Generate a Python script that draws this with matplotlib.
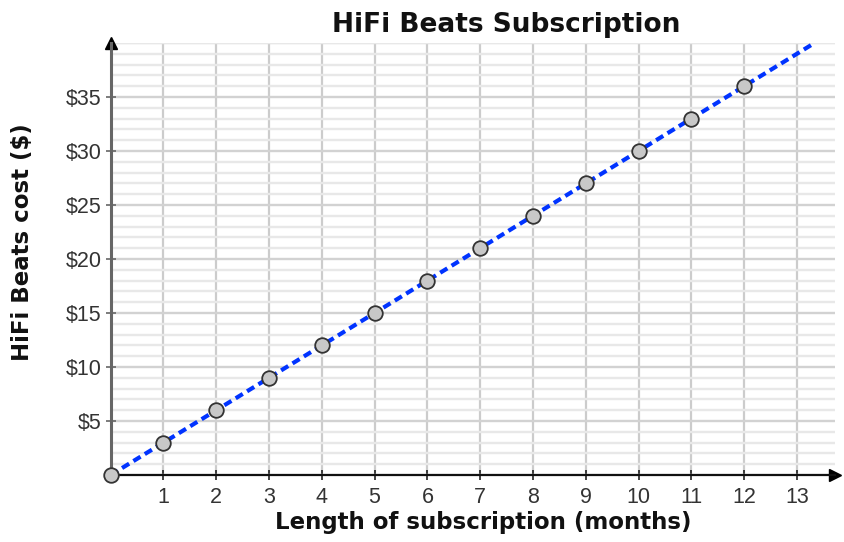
import numpy as np
import matplotlib.pyplot as plt
from matplotlib.ticker import MultipleLocator, FuncFormatter

# data
months = [0, 1, 2, 3, 4, 5, 6, 7, 8, 9, 10, 11, 12]
cost = [0, 3, 6, 9, 12, 15, 18, 21, 24, 27, 30, 33, 36]
x_ticks = [1, 2, 3, 4, 5, 6, 7, 8, 9, 10, 11, 12, 13]
y_ticks = [5, 10, 15, 20, 25, 30, 35]
x_max = 13.72
y_max = 40

# trend line: cost per month from the data
rate = np.polyfit(months, cost, 1)[0]
line_x = [0, y_max / rate]
line_y = [0, y_max]

fig = plt.figure(figsize=(8.45, 5.42), dpi=100)
ax = fig.add_axes([0.131, 0.1236, 0.857, 0.797])

ax.set_xlim(0, x_max)
ax.set_ylim(0, y_max)

# grid
ax.yaxis.set_minor_locator(MultipleLocator(1))
ax.grid(which='minor', axis='y', color='#e8e8e8', linewidth=1.7, zorder=0)
ax.grid(which='major', axis='y', color='#d2d2d2', linewidth=1.7, zorder=0)
ax.set_xticks(x_ticks)
ax.grid(which='major', axis='x', color='#cccccc', linewidth=1.6, zorder=0)
ax.set_yticks(y_ticks)
ax.tick_params(which='minor', length=0)
ax.axhline(y_max, color='#e8e8e8', linewidth=1.7, zorder=0)

ax.yaxis.set_major_formatter(FuncFormatter(lambda v, p: '$%d' % v))
ax.tick_params(axis='both', which='major', direction='inout', length=7,
               width=1.2, labelsize=15.5, colors='#222222', labelcolor='#333333')
ax.tick_params(axis='x', pad=5)
ax.tick_params(axis='y', colors='#666666', labelcolor='#333333', pad=3)
for lab in ax.get_xticklabels() + ax.get_yticklabels():
    lab.set_family('Liberation Sans')

for s in ['top', 'right']:
    ax.spines[s].set_visible(False)
ax.spines['left'].set_color('#666666')
ax.spines['left'].set_linewidth(2.2)
ax.spines['bottom'].set_color('#111111')
ax.spines['bottom'].set_linewidth(1.6)

# axis arrows
ax.plot(1, 0, '>', color='black', markersize=9, transform=ax.transAxes, clip_on=False)
ax.plot(0, 1, '^', color='black', markersize=9, transform=ax.transAxes, clip_on=False)

ax.plot(line_x, line_y, color='#0033ff', linewidth=3.0, linestyle=(0, (2.0, 1.2)),
        zorder=3, clip_on=False)
ax.plot(months, cost, 'o', markersize=10.5, markerfacecolor='#c8c8c8',
        markeredgecolor='#333333', markeredgewidth=1.3, zorder=4, clip_on=False)

ax.set_title('HiFi Beats Subscription', fontsize=19, fontweight='bold',
             family='DejaVu Sans', pad=8, x=0.546, color='#111111')
ax.set_xlabel('Length of subscription (months)', fontsize=16.5, fontweight='bold',
              family='DejaVu Sans', color='#111111')
ax.set_ylabel('HiFi Beats cost ($)', fontsize=16.5, fontweight='bold',
              family='DejaVu Sans', color='#111111')
ax.xaxis.set_label_coords(0.514, -0.083)
ax.yaxis.set_label_coords(-0.106, 0.539)

plt.savefig('out.png', dpi=100)
